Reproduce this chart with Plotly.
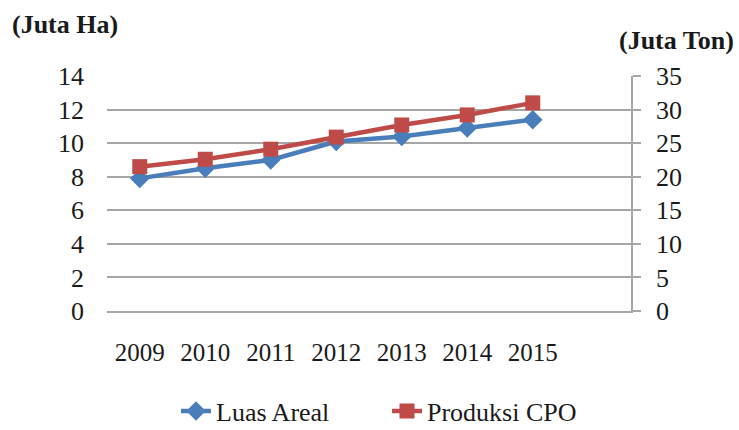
import plotly.graph_objects as go

years = ["2009", "2010", "2011", "2012", "2013", "2014", "2015"]
luas_areal = [7.9, 8.5, 9.0, 10.1, 10.4, 10.9, 11.4]      # Juta Ha (left axis)
produksi_cpo = [21.5, 22.6, 24.1, 25.9, 27.7, 29.2, 31.0]  # Juta Ton (right axis)

left_ticks = [0, 2, 4, 6, 8, 10, 12, 14]
right_ticks = [0, 5, 10, 15, 20, 25, 30, 35]

BLUE = "#4A7EBB"
RED = "#BE4B48"
GRID = "#A6A6A6"
FONT = "Liberation Serif"
TXT = "#1a1a1a"

fig = go.Figure()
fig.add_trace(go.Scatter(
    x=years, y=luas_areal, name="Luas Areal", mode="lines+markers",
    line=dict(color=BLUE, width=4.5),
    marker=dict(symbol="diamond", size=15, color=BLUE),
    yaxis="y",
))
fig.add_trace(go.Scatter(
    x=years, y=produksi_cpo, name="Produksi CPO", mode="lines+markers",
    line=dict(color=RED, width=4.5),
    marker=dict(symbol="square", size=15, color=RED),
    yaxis="y2",
))

fig.update_layout(
    width=739, height=430,
    margin=dict(l=107, r=108, t=76, b=119, autoexpand=False),
    paper_bgcolor="white", plot_bgcolor="white",
    font=dict(family=FONT, size=25, color=TXT),
    showlegend=True,
    legend=dict(
        orientation="h", x=(176 - 107) / 524, xanchor="left",
        y=-(411 - 311) / 235, yanchor="middle",
        font=dict(family=FONT, size=26, color=TXT),
        entrywidth=166, entrywidthmode="pixels",
        tracegroupgap=0, bgcolor="rgba(0,0,0,0)",
    ),
    xaxis=dict(
        type="category", categoryorder="array", categoryarray=years,
        range=[-0.5, 7.5], showgrid=False, zeroline=False,
        showline=True, linecolor=GRID, linewidth=1.5,
        ticks="", ticklabelstandoff=18,
        tickfont=dict(family=FONT, size=25, color=TXT),
    ),
    yaxis=dict(
        range=[0, 14], tickvals=left_ticks, showgrid=True, gridcolor=GRID,
        gridwidth=1.5, zeroline=False, showline=False, ticks="",
        ticklabelstandoff=22,
        tickfont=dict(family=FONT, size=26, color=TXT),
    ),
    yaxis2=dict(
        range=[0, 35], tickvals=right_ticks, overlaying="y", side="right",
        showgrid=False, zeroline=False, showline=True, linecolor=GRID,
        linewidth=1.5, ticks="outside", ticklen=8, tickcolor=GRID, tickwidth=1.5,
        ticklabelstandoff=10,
        tickfont=dict(family=FONT, size=26, color=TXT),
    ),
    annotations=[
        dict(text="<b>(Juta Ha)</b>", xref="paper", yref="paper",
             x=-97/524, xanchor="left", y=1 + 52/235, yanchor="middle",
             showarrow=False, font=dict(family=FONT, size=26, color=TXT)),
        dict(text="<b>(Juta Ton)</b>", xref="paper", yref="paper",
             x=1 + 105/524, xanchor="right", y=1 + 36/235, yanchor="middle",
             showarrow=False, font=dict(family=FONT, size=26, color=TXT)),
    ],
)

fig.write_html("out.html")
